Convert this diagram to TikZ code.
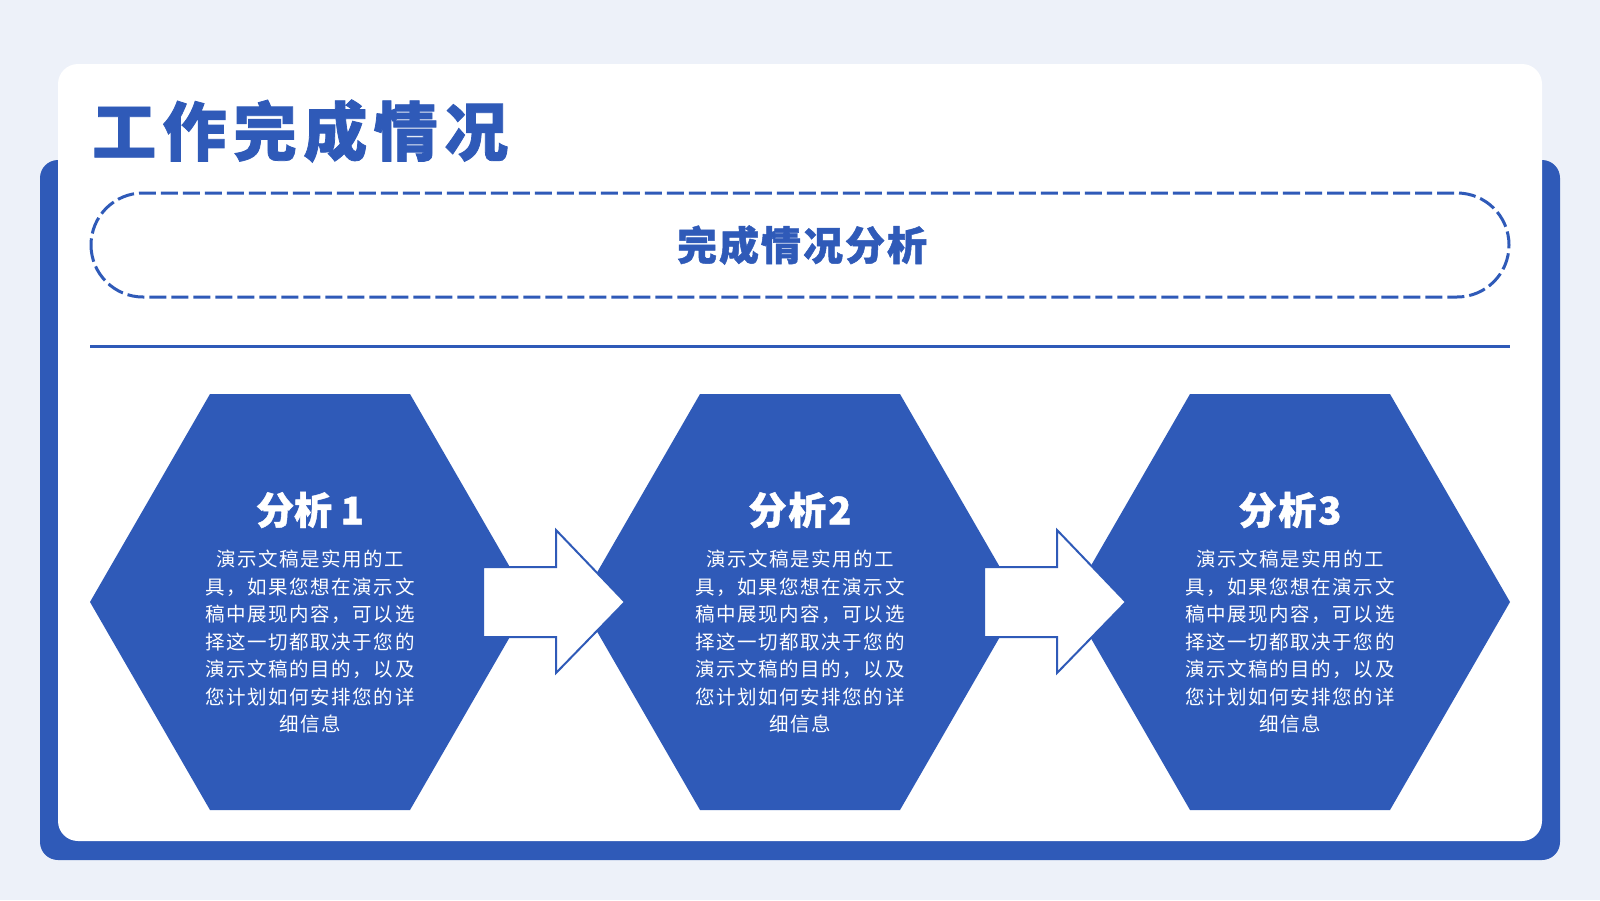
\documentclass[tikz,border=0pt]{standalone}
\usepackage{fontspec}
\setmainfont{Noto Sans CJK SC}
\newfontfamily\heavy{Noto Sans CJK SC}[BoldFeatures={FakeBold=1.2}]
\newfontfamily\heavywide{Noto Sans CJK SC}[LetterSpace=10,BoldFeatures={FakeBold=1.2}]
\newfontfamily\heavymid{Noto Sans CJK SC}[LetterSpace=5,BoldFeatures={FakeBold=1.2}]
\newfontfamily\bodyfont{Noto Sans CJK SC}[LetterSpace=8]
\definecolor{mainblue}{HTML}{2F5AB8}
\definecolor{bgcol}{HTML}{EDF1F9}
\tikzset{
  hexfill/.style={fill=mainblue},
  blockarrow/.style={fill=white, draw=mainblue, line width=2pt, line join=miter},
  hextitle/.style={text=white, font=\heavy\bfseries\fontsize{38}{40}\selectfont, inner sep=0pt},
  hexbody/.style={text=white, font=\bodyfont\fontsize{19.5}{27.5}\selectfont, align=center, inner sep=0pt},
}
\begin{document}
\begin{tikzpicture}[x=1pt,y=-1pt]
\useasboundingbox (0,0) rectangle (1600,900);
\fill[bgcol] (0,0) rectangle (1600,900);
% back blue panel and white card
\fill[mainblue, rounded corners=18pt] (40,160) rectangle (1560,860);
\fill[white, rounded corners=20pt] (58,64) rectangle (1542,841);
% title
\node[anchor=west, text=mainblue, font=\heavywide\bfseries\fontsize{64}{70}\selectfont, inner sep=0pt] (title) at (92,131) {工作完成情况};
% dashed stadium
\draw[mainblue, line width=3pt, dash pattern=on 17pt off 5pt, rounded corners=52pt] (91,193) rectangle (1509,297);
\node[text=mainblue, font=\heavymid\bfseries\fontsize{40}{44}\selectfont, inner sep=0pt] (sub) at (802,245) {完成情况分析};
% rule
\draw[mainblue, line width=3pt] (90,346) -- (1510,346);
% hexagons
\foreach \cx in {310,800,1290}{
  \fill[hexfill] (\cx-100,394) -- (\cx+100,394) -- (\cx+220,602) -- (\cx+100,810) -- (\cx-100,810) -- (\cx-220,602) -- cycle;
}
% arrows
\foreach \dx in {0,501}{
  \draw[blockarrow] (483+\dx,567) -- (556+\dx,567) -- (556+\dx,530) -- (625+\dx,602) -- (556+\dx,673) -- (556+\dx,637) -- (483+\dx,637) -- cycle;
}
% texts
\node[hextitle] (t1) at (310,510) {分析 1};
\node[hextitle, font=\heavymid\bfseries\fontsize{38}{40}\selectfont] (t2) at (800,510) {分析2};
\node[hextitle, font=\heavymid\bfseries\fontsize{38}{40}\selectfont] (t3) at (1290,510) {分析3};
\foreach \cx/\nm in {310/b1,800/b2,1290/b3}{
  \node[hexbody] (\nm) at (\cx,642) {演示文稿是实用的工\\具，如果您想在演示文\\稿中展现内容，可以选\\择这一切都取决于您的\\演示文稿的目的，以及\\您计划如何安排您的详\\细信息};
}
\end{tikzpicture}
\end{document}
